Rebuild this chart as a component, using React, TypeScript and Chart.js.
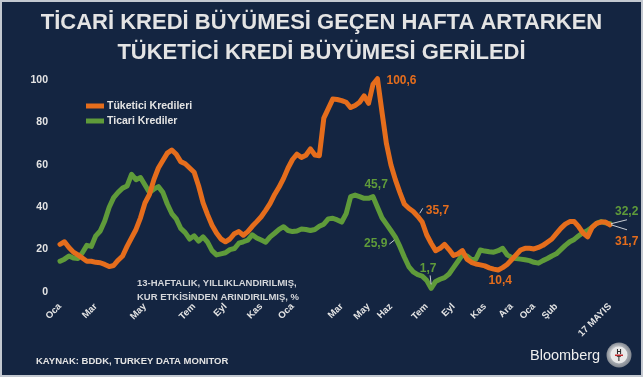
import React, { useEffect, useRef } from "react";
import { Chart, registerables } from "chart.js";

Chart.register(...registerables);

// ---- data (weekly, 13-week annualised growth, %) ----
const consumerLoans = [
  22.5, 23.7, 21, 18.8, 17.5, 16, 14.5, 14.5, 14, 13.8,
  13, 12, 12.5, 15, 17, 21.5, 25.5, 29.5, 35, 42,
  46, 53, 58.5, 62, 65.5, 67, 65, 61.5, 60.5, 58.5,
  56.5, 50, 42, 36.5, 31.5, 27.8, 25, 23.7, 25, 27.5,
  28.5, 26.8, 28.5, 31, 33.2, 35.5, 38.5, 41.8, 46, 49.5,
  53.6, 58.5, 62.5, 65, 63.5, 64.5, 67.5, 64.6, 64.3, 82,
  86.5, 91, 90.8, 90.3, 89.5, 87, 88, 89.5, 92.5, 89,
  98, 100.6, 85, 70, 60, 53, 47, 41.5, 39.5, 38,
  35.7, 33, 27, 23, 19.5, 20.6, 22.5, 20, 17.2, 18,
  19.5, 15.5, 14, 13.2, 12.8, 12.3, 11.4, 10.8, 10.4, 11.5,
  13, 15.2, 17.5, 19.8, 20.6, 20.6, 20.3, 21, 22, 23.5,
  25, 27.5, 30, 32, 33.2, 33.2, 30.8, 27.8, 26, 30.5,
  32.4, 33, 33, 31.7,
];

const commercialLoans = [
  14.5, 15.5, 17, 16, 15.8, 18.5, 22, 21.5, 26.5, 28.8,
  33.5, 40, 44.5, 47, 49, 50, 55.5, 53, 54, 50.5,
  47, 48.5, 49.7, 47, 41.5, 37, 34.5, 30, 28, 25,
  26.5, 24, 26, 23.5, 19.5, 17.5, 18, 18.5, 20, 20.5,
  23, 23.7, 24.5, 27, 25.5, 24.5, 23.5, 26, 27.7, 29.5,
  30.8, 29, 28.5, 28.8, 29.7, 29.5, 29, 29.5, 31, 32,
  34.5, 34.8, 34, 33, 37, 45, 45.7, 45, 44.2, 44.2,
  45, 40, 35, 32, 29, 25.9, 21.5, 16.5, 12, 9.5,
  8.2, 7.5, 5.5, 1.7, 5, 6, 6.8, 8.5, 11.5, 14.5,
  17.5, 17, 15.3, 15.5, 19.8, 19.3, 19, 18.8, 19.5, 20.6,
  17.5, 16.3, 15.8, 15.5, 15.2, 14.8, 14, 13.6, 14.8, 15.8,
  17, 18, 20, 22, 23.7, 24.8, 26.5, 28, 29, 30.6,
  32.4, 33.2, 32.6, 32.2,
];

const tickIndices = [0, 8, 19, 30, 37, 45, 52, 63, 69, 74, 82, 88, 95, 101, 106, 111, 123];
const tickLabels = ["Oca", "Mar", "May", "Tem", "Eyl", "Kas", "Oca", "Mar", "May", "Haz", "Tem", "Eyl", "Kas", "Ara", "Oca", "Şub", "17 MAYIS"];

const seriesNames = ["Tüketici Kredileri", "Ticari Krediler"];
const titleLines = ["TİCARİ KREDİ BÜYÜMESİ GEÇEN HAFTA ARTARKEN", "TÜKETİCİ KREDİ BÜYÜMESİ GERİLEDİ"];
const noteLines = ["13-HAFTALIK, YILLIKLANDIRILMIŞ,", "KUR ETKİSİNDEN ARINDIRILMIŞ, %"];
const sourceText = "KAYNAK: BDDK, TURKEY DATA MONITOR";
const brandText = "Bloomberg";

// indices of highlighted values (series, index)
const highlightPoints = [
  { series: 0, index: 71 },
  { series: 0, index: 80 },
  { series: 1, index: 66 },
  { series: 1, index: 75 },
  { series: 1, index: 83 },
  { series: 0, index: 98 },
  { series: 1, index: 123 },
  { series: 0, index: 123 },
];

// ---- styles ----
const BG = "#142541";
const BORDER = "#c3c8d0";
const ORANGE = "#e56d1c";
const GREEN = "#5f9b3a";
const TEXT = "#e4e4e4";
const FONT = "'Liberation Sans', Arial, sans-serif";

// label placement relative to the data point
const labelPlacement = [
  { dx: 9, dy: 2, align: "left", leader: null },
  { dx: 8, dy: -6, align: "left", leader: [2, -3, 5, -8] },
  { dx: 21, dy: -10, align: "center", leader: null },
  { dx: -8, dy: 7, align: "right", leader: [-6, 7, -1, 3] },
  { dx: -3, dy: -20, align: "center", leader: [-1, -13, 0, -4] },
  { dx: 2, dy: 11, align: "center", leader: null },
  { dx: 5, dy: -12, align: "left", leader: [1, 0, 17, -4] },
  { dx: 5, dy: 17, align: "left", leader: [1, 0, 17, 5] },
];

const categories = consumerLoans.map((_, i) => {
  const k = tickIndices.indexOf(i);
  return k >= 0 ? tickLabels[k] : "";
});

const fmt = (v: number) => v.toFixed(1).replace(".", ",");

const decorPlugin = {
  id: "decor",
  beforeDraw(chart: any) {
    const { ctx, width, height } = chart;
    ctx.save();
    ctx.fillStyle = BG;
    ctx.fillRect(0, 0, width, height);
    ctx.strokeStyle = BORDER;
    ctx.lineWidth = 2;
    ctx.strokeRect(1, 1, width - 2, height - 2);
    ctx.restore();
  },
  afterDatasetsDraw(chart: any) {
    const { ctx, width } = chart;
    ctx.save();
    // title
    ctx.fillStyle = TEXT;
    ctx.font = `bold 22px ${FONT}`;
    ctx.textAlign = "center";
    ctx.textBaseline = "middle";
    ctx.fillText(titleLines[0], width / 2, 23);
    ctx.fillText(titleLines[1], width / 2, 53);

    // legend
    const colors = [ORANGE, GREEN];
    ctx.font = `bold 10.5px ${FONT}`;
    ctx.textAlign = "left";
    seriesNames.forEach((name, i) => {
      const y = 106 + i * 15;
      ctx.strokeStyle = colors[i];
      ctx.lineWidth = 5;
      ctx.lineCap = "butt";
      ctx.beginPath();
      ctx.moveTo(86, y);
      ctx.lineTo(104, y);
      ctx.stroke();
      ctx.fillStyle = TEXT;
      ctx.fillText(name, 107, y + 0.5);
    });

    // note
    ctx.fillStyle = "#d4d6da";
    ctx.font = `bold 9.5px ${FONT}`;
    ctx.fillText(noteLines[0], 137, 283);
    ctx.fillText(noteLines[1], 137, 297);

    // source
    ctx.fillStyle = TEXT;
    ctx.font = `bold 9.5px ${FONT}`;
    ctx.fillText(sourceText, 36, 361);

    // brand
    ctx.font = `14.5px ${FONT}`;
    ctx.fillStyle = "#eeeeee";
    ctx.fillText(brandText, 530, 356);
    // logo
    const cx = 619, cy = 355;
    const g = ctx.createRadialGradient(cx - 3, cy - 3, 2, cx, cy, 13);
    g.addColorStop(0, "#f4f4f4");
    g.addColorStop(1, "#7d838c");
    ctx.fillStyle = g;
    ctx.beginPath();
    ctx.arc(cx, cy, 12.5, 0, Math.PI * 2);
    ctx.fill();
    ctx.fillStyle = "#e9e9e9";
    ctx.beginPath();
    ctx.arc(cx, cy, 8.5, 0, Math.PI * 2);
    ctx.fill();
    ctx.fillStyle = "#2a2a2a";
    ctx.font = `bold 7px ${FONT}`;
    ctx.textAlign = "center";
    ctx.fillText("H", cx, cy - 3);
    ctx.fillStyle = "#c0282d";
    ctx.fillRect(cx - 4, cy - 0.5, 8, 1.5);
    ctx.fillStyle = "#2a2a2a";
    ctx.fillText("T", cx, cy + 4);

    // value labels
    ctx.font = `bold 12px ${FONT}`;
    highlightPoints.forEach((hp, k) => {
      const el = chart.getDatasetMeta(hp.series).data[hp.index];
      if (!el) return;
      const p = labelPlacement[k];
      const ds = chart.data.datasets[hp.series];
      const value = ds.data[hp.index] as number;
      ctx.fillStyle = ds.borderColor;
      ctx.textAlign = p.align;
      ctx.textBaseline = "middle";
      ctx.fillText(fmt(value), el.x + p.dx, el.y + p.dy);
      if (p.leader) {
        ctx.strokeStyle = "#c9cdd3";
        ctx.lineWidth = 1;
        ctx.beginPath();
        ctx.moveTo(el.x + p.leader[0], el.y + p.leader[1]);
        ctx.lineTo(el.x + p.leader[2], el.y + p.leader[3]);
        ctx.stroke();
      }
    });
    ctx.restore();
  },
};

export default function App() {
  const canvasRef = useRef<HTMLCanvasElement | null>(null);

  useEffect(() => {
    document.body.style.margin = "0";
    const canvas = canvasRef.current;
    if (!canvas) return;
    const chart = new Chart(canvas, {
      type: "line",
      data: {
        labels: categories,
        datasets: [
          {
            label: seriesNames[0],
            data: consumerLoans,
            borderColor: ORANGE,
            borderWidth: 5,
            pointRadius: 0,
            tension: 0,
            clip: false,
            borderJoinStyle: "round",
            borderCapStyle: "round",
          },
          {
            label: seriesNames[1],
            data: commercialLoans,
            borderColor: GREEN,
            borderWidth: 5,
            pointRadius: 0,
            tension: 0,
            clip: false,
            borderJoinStyle: "round",
            borderCapStyle: "round",
          },
        ],
      },
      options: {
        responsive: false,
        animation: false,
        events: [],
        layout: { padding: { left: 0, top: 80, right: 33, bottom: 40 } },
        plugins: {
          legend: { display: false },
          title: { display: false },
          tooltip: { enabled: false },
        },
        scales: {
          x: {
            type: "category",
            grid: { display: false, drawTicks: false },
            border: { display: false },
            ticks: {
              autoSkip: false,
              maxRotation: 45,
              minRotation: 45,
              padding: 9,
              color: TEXT,
              font: { family: FONT, size: 9.5, weight: "bold" },
            },
            afterFit: (s: any) => {
              s.height = 45;
            },
          },
          y: {
            min: 0,
            max: 100,
            grid: { display: false, drawTicks: false },
            border: { display: false },
            ticks: {
              stepSize: 20,
              padding: 12,
              color: TEXT,
              font: { family: FONT, size: 10.5, weight: "bold" },
            },
            afterFit: (s: any) => {
              s.width = 60;
            },
          },
        },
      },
      plugins: [decorPlugin],
    });
    return () => chart.destroy();
  }, []);

  return (
    <div style={{ width: 643, height: 377 }}>
      <canvas ref={canvasRef} width={643} height={377} style={{ display: "block" }} />
    </div>
  );
}
